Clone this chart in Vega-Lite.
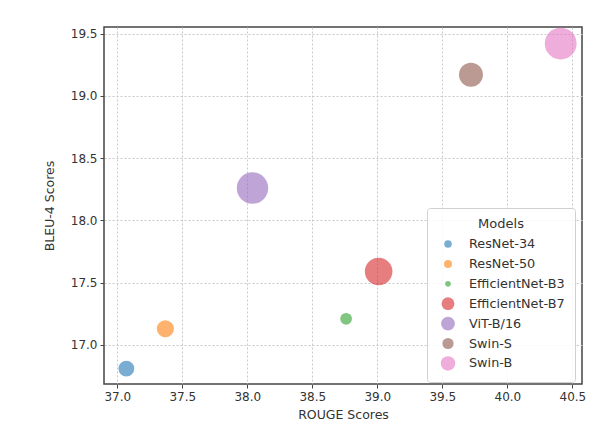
{
  "$schema": "https://vega.github.io/schema/vega-lite/v6.json",
  "width": 478,
  "height": 357,
  "autosize": {"type": "none"},
  "padding": {"left": 104, "top": 27, "right": 29, "bottom": 55},
  "background": "white",
  "data": {
    "values": [
      {"model": "ResNet-34", "rouge": 37.07, "bleu": 16.81, "params": 21.8},
      {"model": "ResNet-50", "rouge": 37.37, "bleu": 17.13, "params": 25.6},
      {"model": "EfficientNet-B3", "rouge": 38.76, "bleu": 17.21, "params": 12},
      {"model": "EfficientNet-B7", "rouge": 39.01, "bleu": 17.59, "params": 66},
      {"model": "ViT-B/16", "rouge": 38.04, "bleu": 18.26, "params": 86},
      {"model": "Swin-S", "rouge": 39.72, "bleu": 19.17, "params": 50},
      {"model": "Swin-B", "rouge": 40.41, "bleu": 19.42, "params": 88}
    ]
  },
  "encoding": {
    "x": {
      "field": "rouge",
      "type": "quantitative",
      "title": "ROUGE Scores",
      "scale": {"domain": [36.898, 40.574], "nice": false, "zero": false},
      "axis": {"values": [37, 37.5, 38, 38.5, 39, 39.5, 40, 40.5], "format": ".1f", "titlePadding": 6}
    },
    "y": {
      "field": "bleu",
      "type": "quantitative",
      "title": "BLEU-4 Scores",
      "scale": {"domain": [16.686, 19.553], "nice": false, "zero": false},
      "axis": {"values": [17, 17.5, 18, 18.5, 19, 19.5], "format": ".1f", "titlePadding": 14}
    }
  },
  "layer": [
    {
      "mark": {"type": "circle", "opacity": 0.6, "clip": true},
      "encoding": {
        "size": {
          "field": "params",
          "type": "quantitative",
          "scale": {"type": "linear", "domain": [0, 100], "range": [0, 1150], "zero": true},
          "legend": null
        },
        "color": {
          "field": "model",
          "type": "nominal",
          "scale": {
            "domain": ["ResNet-34", "ResNet-50", "EfficientNet-B3", "EfficientNet-B7", "ViT-B/16", "Swin-S", "Swin-B"],
            "range": ["#1f77b4", "#ff7f0e", "#2ca02c", "#d62728", "#9467bd", "#8c564b", "#e377c2"]
          },
          "legend": null
        }
      }
    },
    {
      "transform": [{"filter": "false"}],
      "mark": {"type": "circle", "opacity": 0.6},
      "encoding": {
        "size": {
          "field": "model",
          "type": "nominal",
          "title": "Models",
          "scale": {
            "type": "ordinal",
            "domain": ["ResNet-34", "ResNet-50", "EfficientNet-B3", "EfficientNet-B7", "ViT-B/16", "Swin-S", "Swin-B"],
            "range": [58, 64, 32, 165, 190, 125, 210]
          }
        },
        "color": {
          "field": "model",
          "type": "nominal",
          "title": "Models",
          "scale": {
            "domain": ["ResNet-34", "ResNet-50", "EfficientNet-B3", "EfficientNet-B7", "ViT-B/16", "Swin-S", "Swin-B"],
            "range": ["#1f77b4", "#ff7f0e", "#2ca02c", "#d62728", "#9467bd", "#8c564b", "#e377c2"]
          },
          "legend": {
            "orient": "none",
            "legendX": 323,
            "legendY": 181,
            "symbolType": "circle"
          }
        }
      }
    }
  ],
  "resolve": {"scale": {"size": "independent", "color": "independent"}},
  "config": {
    "font": "DejaVu Sans",
    "view": {"stroke": "#444444", "strokeWidth": 1.5},
    "axis": {
      "domain": false,
      "grid": true,
      "gridColor": "#c8c8c8",
      "gridDash": [2, 2],
      "gridWidth": 1,
      "ticks": true,
      "tickColor": "#444444",
      "tickSize": 4,
      "tickWidth": 1,
      "labelFont": "DejaVu Sans",
      "labelFontSize": 12,
      "labelColor": "#333333",
      "labelPadding": 3,
      "titleFont": "DejaVu Sans",
      "titleFontSize": 12.5,
      "titleFontWeight": "normal",
      "titleColor": "#333333"
    },
    "legend": {
      "orient": "none",
      "legendX": 323,
      "legendY": 181,
      "fillColor": "rgba(255,255,255,0.85)",
      "strokeColor": "#d0d0d0",
      "cornerRadius": 3,
      "padding": 10,
      "symbolOffset": 3,
      "titleAnchor": "middle",
      "titleFont": "DejaVu Sans",
      "titleFontSize": 13,
      "titleFontWeight": "normal",
      "titleColor": "#333333",
      "titlePadding": 5,
      "labelFont": "DejaVu Sans",
      "labelFontSize": 12.8,
      "labelColor": "#333333",
      "labelOffset": 13,
      "clipHeight": 16,
      "rowPadding": 3.9
    }
  }
}
